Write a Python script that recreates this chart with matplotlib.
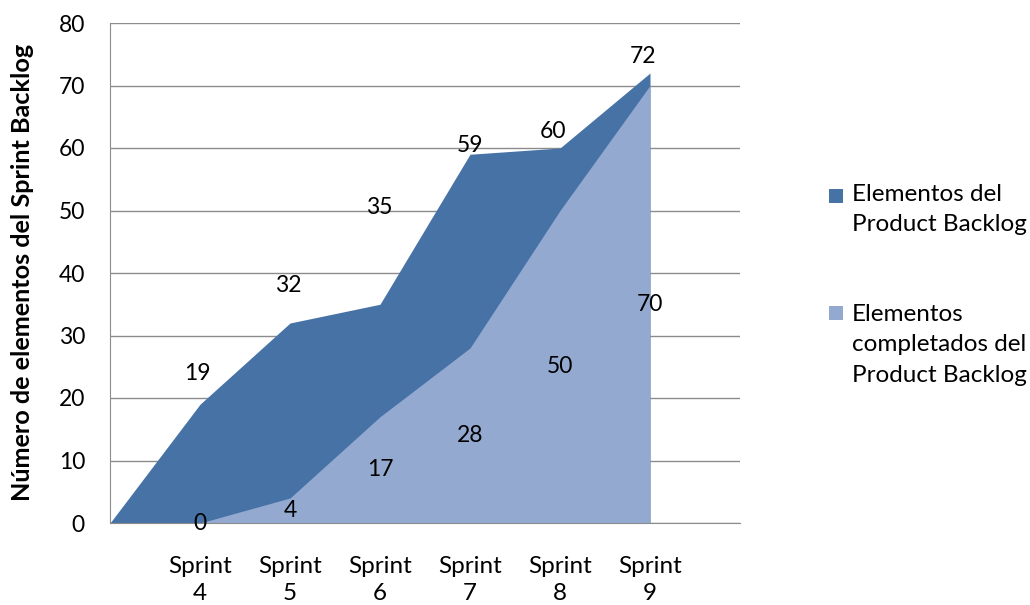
import matplotlib
matplotlib.use("Agg")
import matplotlib.pyplot as plt
from matplotlib.patches import Rectangle
from matplotlib.transforms import offset_copy
import numpy as np

categories = ["", "Sprint\n4", "Sprint\n5", "Sprint\n6", "Sprint\n7", "Sprint\n8", "Sprint\n9"]
product_backlog = [0, 19, 32, 35, 59, 60, 72]
completados = [0, 0, 4, 17, 28, 50, 70]
series_names = ["Elementos del\nProduct Backlog", "Elementos\ncompletados del\nProduct Backlog"]

# label placement tweaks (data units above value for dark series, pixel x shift)
dark_label_dy = [0, 5, 6, 15.4, 1.4, 2.7, 2.7]
dark_label_dx = [0, -3, -2, -1, 0, -7, -7]

dark = "#4672A6"
light = "#94A9D0"
font = "Lato"
fs = 16.5
fs_text = 17.5

W, H = 1030, 605
fig = plt.figure(figsize=(W / 100, H / 100), dpi=100)
ax = fig.add_axes([110/W, 1 - 523/H, (740-110)/W, (523-23)/H])

x = np.arange(len(categories))
ax.fill_between(x, product_backlog, 0, color=dark, linewidth=0, zorder=2)
ax.fill_between(x, completados, 0, color=light, linewidth=0, zorder=3)

ax.set_xlim(0, len(categories))
ax.set_ylim(0, 80)
ax.set_yticks(range(0, 81, 10))
ax.set_xticks(x[1:])
ax.set_xticklabels(categories[1:], fontsize=fs_text, family=font, linespacing=1.36)
ax.tick_params(axis="x", length=0, pad=24)
ax.tick_params(axis="y", length=0, pad=18, labelsize=fs)
for lab in ax.get_yticklabels():
    lab.set_family(font)

ax.grid(axis="y", color="#8C8C8C", linewidth=1.0, zorder=1)
ax.set_axisbelow(True)
for s in ["top", "right"]:
    ax.spines[s].set_visible(False)
ax.spines["left"].set_color("#8C8C8C")
ax.spines["bottom"].set_color("#8C8C8C")
ax.spines["bottom"].set_zorder(4)

fig.text(23/W, 1 - 272/H, "Número de elementos del Sprint Backlog", rotation=90,
         fontsize=18.2, fontweight="bold", family=font, ha="center", va="center")

for i in range(1, len(categories)):
    tr = offset_copy(ax.transData, fig=fig, x=dark_label_dx[i], y=0, units="dots")
    ax.text(x[i], product_backlog[i] + dark_label_dy[i], str(product_backlog[i]),
            ha="center", va="center", fontsize=fs, family=font, color="black",
            zorder=5, transform=tr)
    ax.text(x[i], completados[i] / 2, str(completados[i]),
            ha="center", va="center", fontsize=fs, family=font, color="black", zorder=5)

# manual legend (square aligned with first text line, as in the reference)
legend_colors = [dark, light]
legend_text_tops = [184, 304]
legend_square_tops = [189, 306]
for name, col, top, stop in zip(series_names, legend_colors, legend_text_tops, legend_square_tops):
    fig.add_artist(Rectangle((829/W, 1 - (stop + 14)/H), 14/W, 14/H, transform=fig.transFigure,
                             facecolor=col, edgecolor="none"))
    fig.text(852/W, 1 - top/H, name, fontsize=fs_text, family=font, ha="left", va="top",
             linespacing=1.55)

fig.savefig("out.png", dpi=100)
